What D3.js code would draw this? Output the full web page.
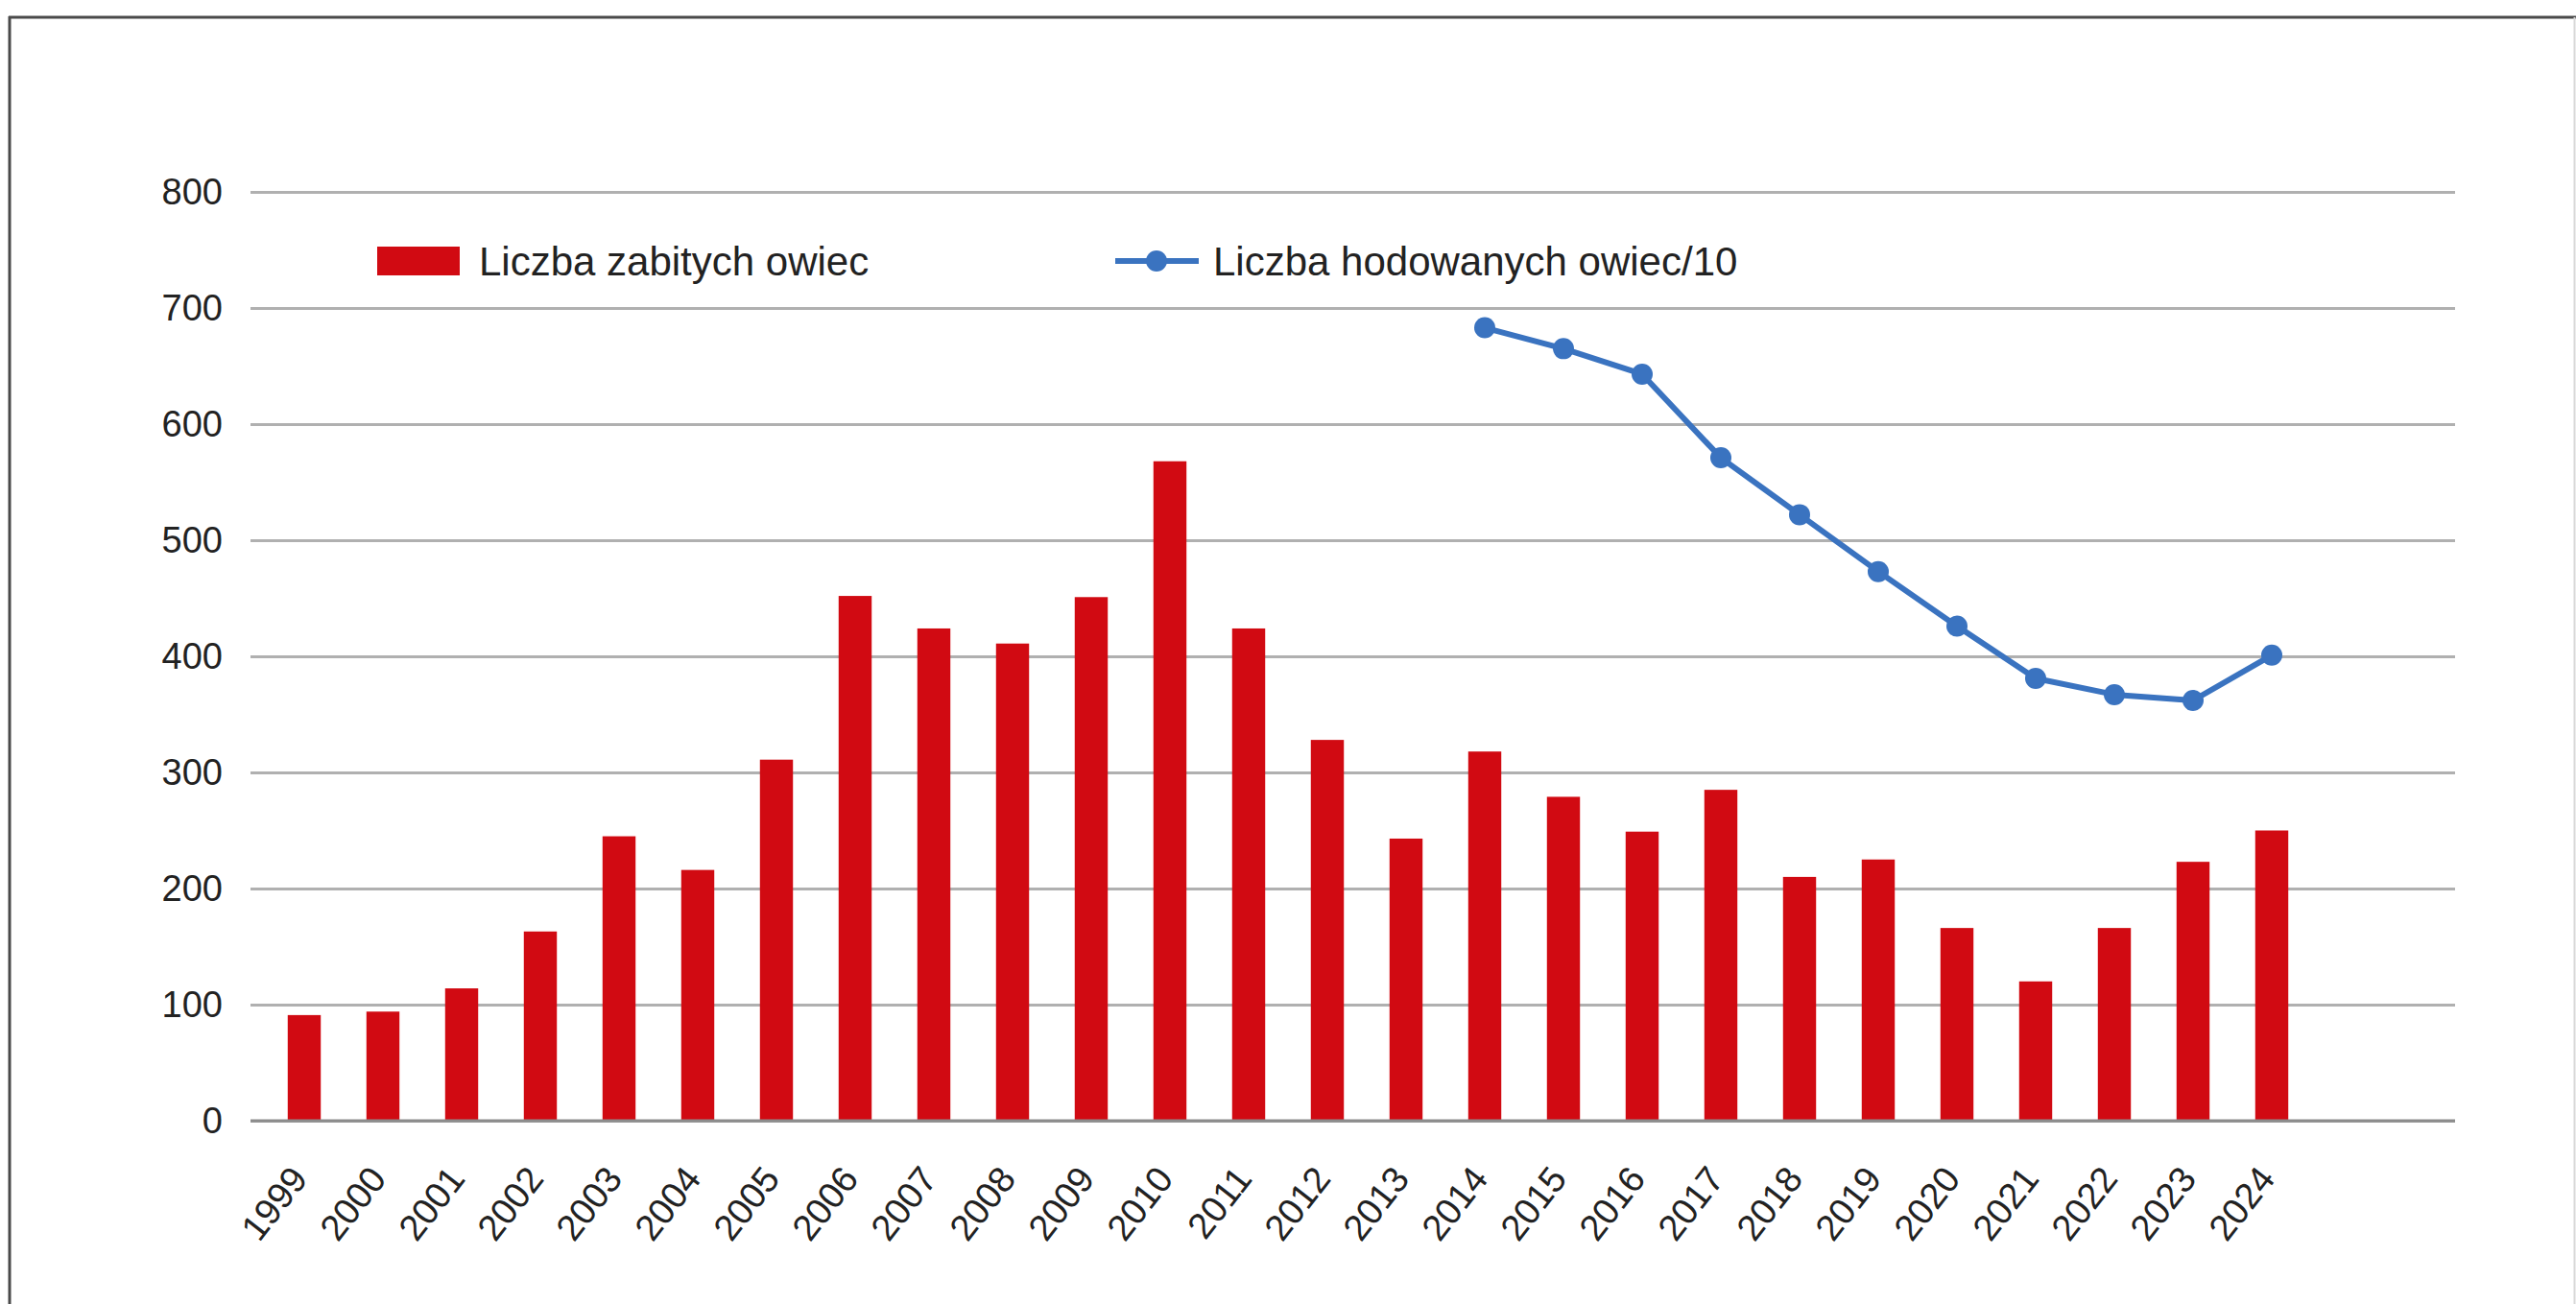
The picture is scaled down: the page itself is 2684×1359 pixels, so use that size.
<!DOCTYPE html>
<html>
<head>
<meta charset="utf-8">
<script src="https://cdn.jsdelivr.net/npm/d3@7/dist/d3.min.js"></script>
<style>
  html, body { margin: 0; padding: 0; background: #fff; }
  svg { display: block; font-family: "Liberation Sans", Arial, sans-serif; }
</style>
</head>
<body>
<svg id="chart" width="2684" height="1359"></svg>
<script>
const years = ["1999","2000","2001","2002","2003","2004","2005","2006","2007","2008","2009","2010","2011","2012","2013","2014","2015","2016","2017","2018","2019","2020","2021","2022","2023","2024"];
const slaughtered = [91, 94, 114, 163, 245, 216, 311, 452, 424, 411, 451, 568, 424, 328, 243, 318, 279, 249, 285, 210, 225, 166, 120, 166, 223, 250];
const lineYears = ["2014","2015","2016","2017","2018","2019","2020","2021","2022","2023","2024"];
const bredPer10 = [683, 665, 643, 571, 522, 473, 426, 381, 367, 362, 401];
const yTicks = [0, 100, 200, 300, 400, 500, 600, 700, 800];
const seriesNames = ["Liczba zabitych owiec", "Liczba hodowanych owiec/10"];

const barColor = "#d10a12";
const lineColor = "#3a73c0";

const svg = d3.select("#chart");

// frame
svg.append("line").attr("x1", 9).attr("x2", 2684).attr("y1", 18).attr("y2", 18)
  .attr("stroke", "#4a4a4a").attr("stroke-width", 3);
svg.append("line").attr("x1", 10).attr("x2", 10).attr("y1", 17).attr("y2", 1359)
  .attr("stroke", "#4a4a4a").attr("stroke-width", 3);
svg.append("line").attr("x1", 2682.5).attr("x2", 2682.5).attr("y1", 18).attr("y2", 1359)
  .attr("stroke", "#d8d8d8").attr("stroke-width", 2);

const plotLeft = 261, plotRight = 2558;
const y = d3.scaleLinear().domain([0, 800]).range([1168, 200]);
const x = d3.scaleBand().domain(years).range([276, 2408]).paddingInner(0.58).paddingOuter(0.29);

// y axis with gridlines
const yAxis = d3.axisLeft(y).tickValues(yTicks).tickSize(-(plotRight - plotLeft)).tickPadding(29).tickFormat(d3.format("d"));
const gy = svg.append("g").attr("transform", `translate(${plotLeft},0)`).call(yAxis);
gy.select(".domain").remove();
gy.selectAll(".tick line").attr("stroke", "#b0b0b0").attr("stroke-width", 3);
gy.selectAll(".tick text").attr("font-size", 38).attr("fill", "#222")
  .attr("font-family", "Liberation Sans, Arial, sans-serif");

// bars
svg.append("g").selectAll("rect").data(years).join("rect")
  .attr("x", (d) => x(d))
  .attr("width", x.bandwidth())
  .attr("y", (d, i) => y(slaughtered[i]))
  .attr("height", (d, i) => y(0) - y(slaughtered[i]))
  .attr("fill", barColor);

// baseline
svg.append("line").attr("x1", plotLeft).attr("x2", plotRight).attr("y1", y(0)).attr("y2", y(0))
  .attr("stroke", "#8c8c8c").attr("stroke-width", 3);

// x axis labels
const xAxis = d3.axisBottom(x).tickSize(0).tickPadding(0);
const gx = svg.append("g").attr("transform", `translate(0,${y(0)})`).call(xAxis);
gx.select(".domain").remove();
gx.selectAll(".tick text")
  .attr("font-size", 38).attr("fill", "#222")
  .attr("font-family", "Liberation Sans, Arial, sans-serif")
  .attr("text-anchor", "end")
  .attr("dy", 0)
  .attr("y", 0)
  .attr("transform", "translate(5,61) rotate(-52)");

// line
const cx = (d) => x(d) + x.bandwidth() / 2;
const lineGen = d3.line().x((d, i) => cx(lineYears[i])).y((d) => y(d));
svg.append("path").datum(bredPer10).attr("d", lineGen)
  .attr("fill", "none").attr("stroke", lineColor).attr("stroke-width", 6).attr("stroke-linejoin", "round");
svg.append("g").selectAll("circle").data(bredPer10).join("circle")
  .attr("cx", (d, i) => cx(lineYears[i])).attr("cy", (d) => y(d)).attr("r", 11)
  .attr("fill", lineColor);

// legend
const lg = svg.append("g");
lg.append("rect").attr("x", 393).attr("y", 257).attr("width", 86).attr("height", 30).attr("fill", barColor);
lg.append("text").attr("x", 499).attr("y", 272).attr("dy", "0.36em").attr("font-size", 42).attr("fill", "#222")
  .text(seriesNames[0]);
lg.append("line").attr("x1", 1162).attr("x2", 1249).attr("y1", 272).attr("y2", 272)
  .attr("stroke", lineColor).attr("stroke-width", 6);
lg.append("circle").attr("cx", 1205).attr("cy", 272).attr("r", 11).attr("fill", lineColor);
lg.append("text").attr("x", 1264).attr("y", 272).attr("dy", "0.36em").attr("font-size", 42).attr("fill", "#222")
  .text(seriesNames[1]);
</script>
</body>
</html>
